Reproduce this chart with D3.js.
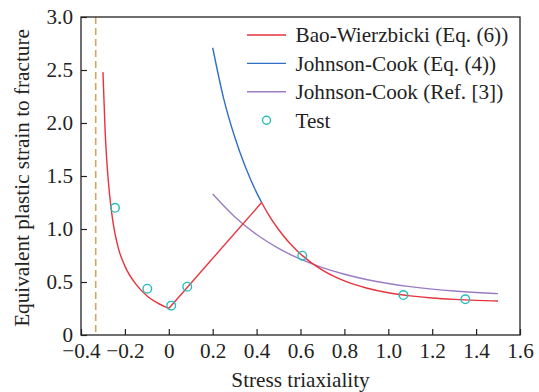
<!DOCTYPE html>
<html>
<head>
<meta charset="utf-8">
<script src="https://cdn.jsdelivr.net/npm/d3@7"></script>
<style>
  html, body { margin: 0; padding: 0; background: #fff; }
  svg { display: block; }
  text { fill: #222; }
</style>
</head>
<body>
<svg id="chart" width="539" height="392"></svg>
<script>
// ---- data ----
const xTicks = [-0.4, -0.2, 0, 0.2, 0.4, 0.6, 0.8, 1.0, 1.2, 1.4, 1.6];
const xTickLabels = ["\u22120.4", "\u22120.2", "0", "0.2", "0.4", "0.6", "0.8", "1.0", "1.2", "1.4", "1.6"];
const yTicks = [0, 0.5, 1.0, 1.5, 2.0, 2.5, 3.0];
const yTickLabels = ["0", "0.5", "1.0", "1.5", "2.0", "2.5", "3.0"];

const seriesNames = ["Bao-Wierzbicki (Eq. (6))", "Johnson-Cook (Eq. (4))", "Johnson-Cook (Ref. [3])", "Test"];

// Bao-Wierzbicki, three pieces
const bwLeftX = [-0.30, -0.29, -0.28, -0.27, -0.26, -0.25, -0.23, -0.20, -0.15, -0.10, -0.05, 0.0];
const bwLeftY = [2.48, 1.92, 1.57, 1.33, 1.15, 1.01, 0.82, 0.65, 0.48, 0.37, 0.30, 0.25];
const bwMidX = [0.0, 0.423];
const bwMidY = [0.25, 1.25];
const bwRightX = [0.423, 0.45, 0.50, 0.55, 0.60, 0.70, 0.80, 0.90, 1.00, 1.10, 1.20, 1.30, 1.40, 1.50];
const bwRightY = [1.25, 1.15, 0.995, 0.868, 0.765, 0.612, 0.510, 0.443, 0.398, 0.369, 0.349, 0.336, 0.327, 0.321];

// Johnson-Cook (Eq. (4))
const jcX = [0.20, 0.25, 0.30, 0.35, 0.40, 0.423];
const jcY = [2.71, 2.23, 1.87, 1.58, 1.343, 1.25];

// Johnson-Cook (Ref. [3])
const jcRefX = [0.20, 0.30, 0.40, 0.50, 0.60, 0.70, 0.80, 0.90, 1.00, 1.10, 1.20, 1.30, 1.40, 1.50];
const jcRefY = [1.33, 1.116, 0.948, 0.817, 0.715, 0.635, 0.573, 0.524, 0.486, 0.456, 0.433, 0.415, 0.401, 0.39];

// Test points
const testX = [-0.245, -0.098, 0.011, 0.084, 0.608, 1.069, 1.351];
const testY = [1.20, 0.437, 0.277, 0.456, 0.748, 0.377, 0.337];

// dashed limit line
const limitX = -0.333;

// ---- drawing ----
const svg = d3.select("#chart");
const margin = {left: 81, top: 17, right: 19, bottom: 57};
const W = 539, H = 392;
const FS = "21.2px";
const FF = '"Liberation Serif", "Times New Roman", serif';
const x = d3.scaleLinear().domain([-0.4, 1.6]).range([margin.left, W - margin.right]);
const y = d3.scaleLinear().domain([0, 3.0]).range([H - margin.bottom, margin.top]);

const colors = {red: "#e8333c", blue: "#2f6fc6", purple: "#9b7cc2", teal: "#27bcbc", tan: "#cfa760"};

svg.append("line")
  .attr("x1", x(limitX)).attr("x2", x(limitX))
  .attr("y1", y(3.0)).attr("y2", y(0))
  .attr("stroke", colors.tan).attr("stroke-width", 1.6)
  .attr("stroke-dasharray", "7,4");

const zip = (xs, ys) => xs.map((v, i) => [v, ys[i]]);
const line = d3.line().x(d => x(d[0])).y(d => y(d[1])).curve(d3.curveMonotoneX);
const lineLin = d3.line().x(d => x(d[0])).y(d => y(d[1]));

function path(data, color, gen) {
  svg.append("path").datum(data)
    .attr("fill", "none").attr("stroke", color).attr("stroke-width", 1.4)
    .attr("d", gen || line);
}
path(zip(jcRefX, jcRefY), colors.purple);
path(zip(jcX, jcY), colors.blue);
path(zip(bwLeftX, bwLeftY), colors.red);
path(zip(bwMidX, bwMidY), colors.red, lineLin);
path(zip(bwRightX, bwRightY), colors.red);

svg.append("g").selectAll("circle").data(zip(testX, testY)).join("circle")
  .attr("cx", d => x(d[0])).attr("cy", d => y(d[1])).attr("r", 4.3)
  .attr("fill", "none").attr("stroke", colors.teal).attr("stroke-width", 1.4);

const xAxis = d3.axisBottom(x).tickValues(xTicks).tickSize(-6).tickPadding(8)
  .tickFormat((d, i) => xTickLabels[i]);
const yAxis = d3.axisLeft(y).tickValues(yTicks).tickSize(-6).tickPadding(8)
  .tickFormat((d, i) => yTickLabels[i]);

const gx = svg.append("g").attr("transform", `translate(0,${y(0)})`).call(xAxis);
const gy = svg.append("g").attr("transform", `translate(${x(-0.4)},0)`).call(yAxis);
[gx, gy].forEach(g => {
  g.attr("font-family", FF).attr("font-size", FS);
  g.select(".domain").remove();
  g.selectAll("line").attr("stroke", "#222").attr("stroke-width", 1.2);
  g.selectAll("text").attr("font-family", FF).attr("font-size", FS).attr("fill", "#222");
});

svg.append("rect")
  .attr("x", x(-0.4)).attr("y", y(3.0))
  .attr("width", x(1.6) - x(-0.4)).attr("height", y(0) - y(3.0))
  .attr("fill", "none").attr("stroke", "#222").attr("stroke-width", 1.3);

svg.append("text").attr("x", (x(-0.4) + x(1.6)) / 2).attr("y", 387)
  .attr("text-anchor", "middle").attr("font-family", FF).attr("font-size", FS).text("Stress triaxiality");
svg.append("text").attr("transform", `translate(28.5,178) rotate(-90)`)
  .attr("text-anchor", "middle").attr("font-family", FF).attr("font-size", FS).text("Equivalent plastic strain to fracture");

// legend
const legend = svg.append("g");
const lgColors = [colors.red, colors.blue, colors.purple, colors.teal];
seriesNames.forEach((name, i) => {
  const cy = 35 + i * 28.4;
  if (i < 3) {
    legend.append("line").attr("x1", 247).attr("x2", 286).attr("y1", cy).attr("y2", cy)
      .attr("stroke", lgColors[i]).attr("stroke-width", 1.4);
  } else {
    legend.append("circle").attr("cx", 266.5).attr("cy", cy).attr("r", 4)
      .attr("fill", "none").attr("stroke", lgColors[i]).attr("stroke-width", 1.4);
  }
  legend.append("text").attr("x", 295.5).attr("y", cy).attr("dy", "0.35em")
    .attr("font-family", FF).attr("font-size", FS).text(name);
});
</script>
</body>
</html>
